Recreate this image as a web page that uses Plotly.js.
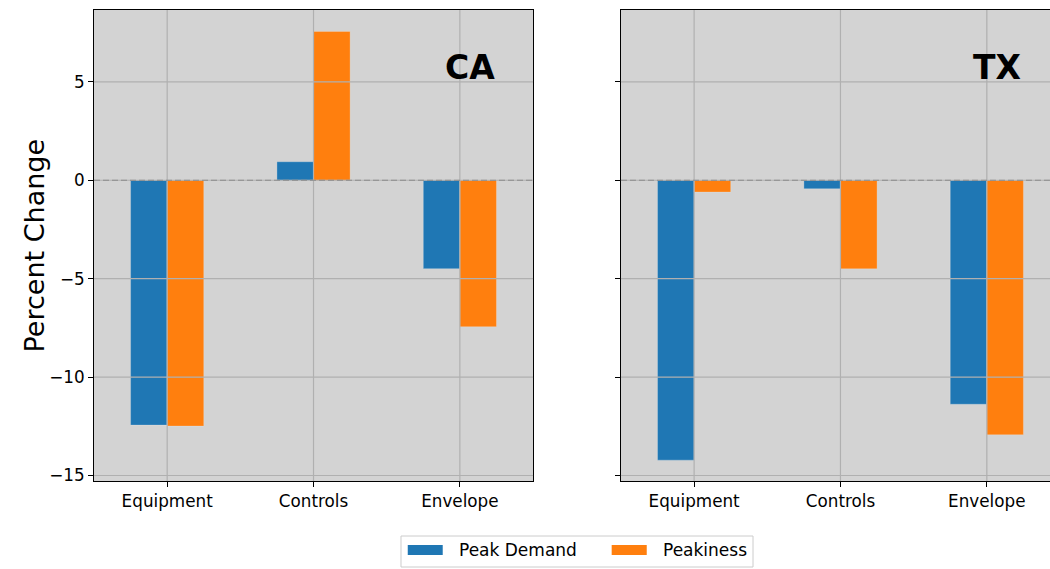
<!DOCTYPE html>
<html>
<head>
<meta charset="utf-8">
<script src="https://cdn.plot.ly/plotly-3.0.1.min.js"></script>
<style>
  html, body { margin: 0; padding: 0; overflow: hidden; background: #ffffff; width: 1050px; height: 569px; }
  #chart { width: 1060px; height: 569px; }
</style>
</head>
<body>
<div id="chart"></div>
<script>
// Percent change by measure type, per region
const measures = ['Equipment', 'Controls', 'Envelope'];
const seriesNames = ['Peak Demand', 'Peakiness'];
const seriesColors = ['#1f77b4', '#ff7f0e'];
const regionLabels = ['CA', 'TX'];
const yTitle = 'Percent Change';

const caPeakDemand = [-12.44, 0.94, -4.49];
const caPeakiness  = [-12.49, 7.56, -7.44];
const txPeakDemand = [-14.22, -0.43, -11.38];
const txPeakiness  = [-0.60, -4.50, -12.93];

const yTicks = [-15, -10, -5, 0, 5];
const yTickText = ['\u221215', '\u221210', '\u22125', '0', '5'];
const yRange = [-15.28, 8.65];

const FONT = 'DejaVu Sans, Verdana, sans-serif';
const GRID = '#b0b0b0';

function bar(x, y, i, xa, ya) {
  return {
    type: 'bar', x: x, y: y, name: seriesNames[i],
    xaxis: xa, yaxis: ya, offsetgroup: String(i),
    marker: { color: seriesColors[i], line: { width: 0.8, color: 'rgba(235,235,235,0.35)' } },
    showlegend: false, hoverinfo: 'x+y'
  };
}

const traces = [
  bar(measures, caPeakDemand, 0, 'x', 'y'),
  bar(measures, caPeakiness, 1, 'x', 'y'),
  bar(measures, txPeakDemand, 0, 'x2', 'y2'),
  bar(measures, txPeakiness, 1, 'x2', 'y2')
];

// Grid lines drawn above the bars, plus the dashed zero reference
const shapes = [];
[['x', 'y'], ['x2', 'y2']].forEach(([xa, ya]) => {
  yTicks.forEach(v => shapes.push({
    type: 'line', layer: 'above', xref: xa + ' domain', yref: ya,
    x0: 0, x1: 1, y0: v, y1: v, line: { color: GRID, width: 1.2 }
  }));
  measures.forEach((m, i) => shapes.push({
    type: 'line', layer: 'above', xref: xa, yref: ya + ' domain',
    x0: i, x1: i, y0: 0, y1: 1, line: { color: GRID, width: 1.2 }
  }));
  shapes.push({
    type: 'line', layer: 'above', xref: xa + ' domain', yref: ya,
    x0: 0, x1: 1, y0: 0, y1: 0, line: { color: '#8c8c8c', width: 1.2, dash: '6px,3px' }
  });
});

// Legend frame and swatches (paper coordinates)
const legendBox = { x0: 0.3178, x1: 0.6822, y0: -0.1826, y1: -0.1168 };
const swatchX = [[0.3248, 0.3610], [0.5359, 0.5722]];
const labelX = [0.3758, 0.5870];
const swatchY = [-0.1571, -0.1359];
const labelY = -0.1465;

shapes.push({
  type: 'rect', xref: 'paper', yref: 'paper', layer: 'above',
  x0: legendBox.x0, x1: legendBox.x1, y0: legendBox.y0, y1: legendBox.y1,
  line: { color: '#cccccc', width: 1 }, fillcolor: 'rgba(255,255,255,0.8)'
});
seriesNames.forEach((n, i) => shapes.push({
  type: 'rect', xref: 'paper', yref: 'paper', layer: 'above',
  x0: swatchX[i][0], x1: swatchX[i][1], y0: swatchY[0], y1: swatchY[1],
  line: { width: 0 }, fillcolor: seriesColors[i]
}));

const annotations = [];
seriesNames.forEach((n, i) => annotations.push({
  xref: 'paper', yref: 'paper', x: labelX[i], y: labelY,
  xanchor: 'left', yanchor: 'middle', showarrow: false, text: n,
  font: { family: FONT, size: 17, color: '#000000' }
}));
['x', 'x2'].forEach((xa, i) => annotations.push({
  xref: xa + ' domain', yref: (i === 0 ? 'y' : 'y2') + ' domain',
  x: 0.857, y: 0.877, xanchor: 'center', yanchor: 'middle', showarrow: false,
  text: '<b>' + regionLabels[i] + '</b>',
  font: { family: FONT, size: 33, color: '#000000' }
}));
// Shared y-axis title
annotations.push({
  xref: 'paper', yref: 'paper', x: -0.0611, y: 0.5,
  xanchor: 'center', yanchor: 'middle', showarrow: false, textangle: -90,
  text: yTitle, font: { family: FONT, size: 27, color: '#000000' }
});

const xCommon = {
  type: 'category', range: [-0.5, 2.5], showgrid: false, zeroline: false,
  showline: true, mirror: true, linecolor: '#000000', linewidth: 1,
  ticks: 'outside', ticklen: 5, tickwidth: 1, tickcolor: '#000000',
  tickfont: { family: FONT, size: 16.8, color: '#000000' }
};
const yCommon = {
  range: yRange, tickvals: yTicks, ticktext: yTickText, showgrid: false, zeroline: false,
  showline: true, mirror: true, linecolor: '#000000', linewidth: 1,
  ticks: 'outside', ticklen: 5, tickwidth: 1, tickcolor: '#000000',
  tickfont: { family: FONT, size: 16.8, color: '#000000' }
};

const layout = {
  width: 1060, height: 569,
  margin: { l: 94, r: 0, t: 10, b: 88 },
  paper_bgcolor: '#ffffff', plot_bgcolor: '#d3d3d3',
  barmode: 'group', bargap: 0.5, bargroupgap: 0,
  showlegend: false,
  xaxis: Object.assign({}, xCommon, { domain: [0, 0.4545], anchor: 'y' }),
  xaxis2: Object.assign({}, xCommon, { domain: [0.5455, 1], anchor: 'y2' }),
  yaxis: Object.assign({}, yCommon, { anchor: 'x' }),
  yaxis2: Object.assign({}, yCommon, { anchor: 'x2', matches: 'y', showticklabels: false }),
  shapes: shapes,
  annotations: annotations
};

Plotly.newPlot('chart', traces, layout, { displayModeBar: false, staticPlot: true });
</script>
</body>
</html>
